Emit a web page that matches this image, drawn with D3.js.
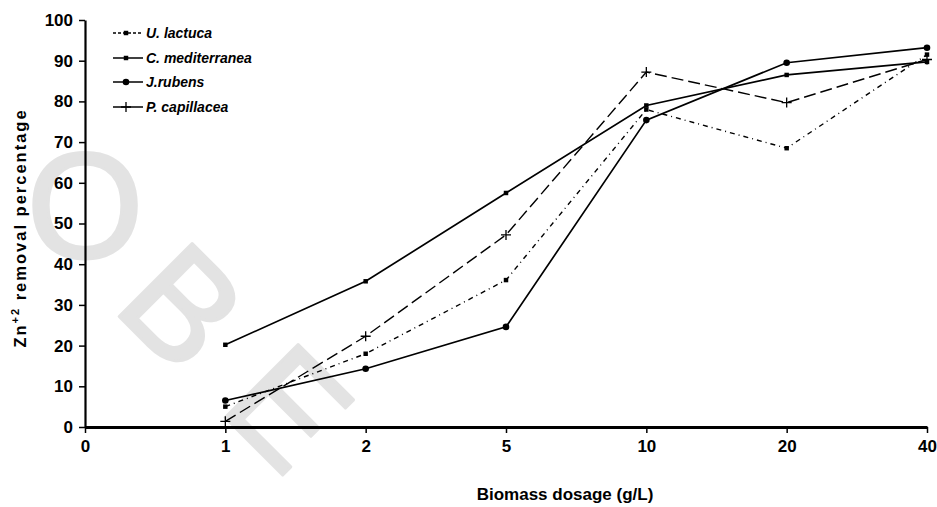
<!DOCTYPE html>
<html>
<head>
<meta charset="utf-8">
<script src="https://cdn.jsdelivr.net/npm/d3@7"></script>
<style>
  html, body { margin: 0; padding: 0; background: #fff; }
  svg { display: block; }
  text { font-family: "Liberation Sans", Arial, sans-serif; }
</style>
</head>
<body>
<svg id="chart" width="937" height="507"></svg>
<script>
// Biomass dosage categories (g/L)
const dosages = ["0", "1", "2", "5", "10", "20", "40"];
const measuredDosages = ["1", "2", "5", "10", "20", "40"];
const yTicks = [0, 10, 20, 30, 40, 50, 60, 70, 80, 90, 100];

// Zn(II) removal percentage per alga
const uLactuca      = [5.0, 18.0, 36.1, 78.0, 68.5, 91.5];
const cMediterranea = [20.2, 35.8, 57.5, 79.0, 86.5, 89.7];
const jRubens       = [6.5, 14.3, 24.6, 75.4, 89.5, 93.2];
const pCapillacea   = [1.4, 22.3, 47.2, 87.2, 79.7, 90.3];

const seriesNames = ["U. lactuca", "C. mediterranea", "J.rubens", "P. capillacea"];
const watermarkLetters = ["O", "B", "E"];

const series = [
  { name: seriesNames[0], values: uLactuca, dash: "5,4,1,4", marker: "square", width: 1.4 },
  { name: seriesNames[1], values: cMediterranea, dash: null, marker: "square", width: 1.7 },
  { name: seriesNames[2], values: jRubens, dash: null, marker: "circle", width: 1.7 },
  { name: seriesNames[3], values: pCapillacea, dash: "12,5", marker: "plus", width: 1.4 }
];

const svg = d3.select("#chart");

const x = d3.scalePoint().domain(dosages).range([85, 927]);
const y = d3.scaleLinear().domain([0, 100]).range([427, 20]);

// faint diagonal watermark lettering behind the plot
const wm = svg.append("g")
  .attr("fill", "#e3e3e3")
  .attr("stroke", "#e3e3e3")
  .attr("stroke-width", 3)
  .attr("stroke-linejoin", "round");
const wmPlace = [[85, 204, 0], [184, 305, 45], [290, 406, 45]];
watermarkLetters.forEach((ch, i) => {
  wm.append("text")
    .attr("transform", `translate(${wmPlace[i][0]},${wmPlace[i][1]}) rotate(${wmPlace[i][2]})`)
    .attr("text-anchor", "middle")
    .attr("dy", "0.36em")
    .attr("font-size", 150)
    .text(ch);
});

// axes
const yAxis = d3.axisLeft(y).tickValues(yTicks).tickSize(6).tickSizeOuter(0);
const gy = svg.append("g").attr("transform", "translate(85,0)").call(yAxis);
gy.select(".domain").attr("stroke-width", 2.2);
gy.selectAll(".tick line").attr("stroke-width", 1.5);
gy.selectAll(".tick text")
  .attr("x", -12)
  .attr("font-size", 17)
  .attr("font-weight", "bold")
  .attr("fill", "#000");

const xAxis = d3.axisBottom(x).tickSize(6).tickSizeOuter(0);
const gx = svg.append("g").attr("transform", "translate(0,427)").call(xAxis);
gx.select(".domain").attr("stroke-width", 2.8);
gx.selectAll(".tick line").attr("stroke-width", 1.5);
gx.selectAll(".tick text")
  .attr("y", 13)
  .attr("font-size", 17)
  .attr("font-weight", "bold")
  .attr("fill", "#000");

// axis titles
svg.append("text")
  .attr("x", 565).attr("y", 500)
  .attr("text-anchor", "middle")
  .attr("font-size", 17)
  .attr("font-weight", "bold")
  .text("Biomass dosage (g/L)");

const yt = svg.append("text")
  .attr("transform", "translate(26,228) rotate(-90)")
  .attr("text-anchor", "middle")
  .attr("font-size", 16.5)
  .attr("font-weight", "bold")
  .attr("letter-spacing", 2);
yt.append("tspan").text("Zn");
yt.append("tspan").attr("dy", -7).attr("font-size", 11).text("+2");
yt.append("tspan").attr("dy", 7).text(" removal percentage");

// lines and markers
const line = d3.line()
  .x((d, i) => x(measuredDosages[i]))
  .y(d => y(d));

function drawMarker(g, type, cx, cy) {
  if (type === "circle") {
    g.append("circle").attr("cx", cx).attr("cy", cy).attr("r", 3.3).attr("fill", "#000");
  } else if (type === "square") {
    g.append("path")
      .attr("transform", `translate(${cx},${cy})`)
      .attr("d", d3.symbol(d3.symbolSquare, 20)())
      .attr("fill", "#000");
  } else {
    g.append("path")
      .attr("transform", `translate(${cx},${cy})`)
      .attr("d", "M-5,0H5M0,-5V5")
      .attr("stroke", "#000")
      .attr("stroke-width", 1.3)
      .attr("fill", "none");
  }
}

const plot = svg.append("g");
series.forEach(s => {
  plot.append("path")
    .datum(s.values)
    .attr("d", line)
    .attr("fill", "none")
    .attr("stroke", "#000")
    .attr("stroke-width", s.width)
    .attr("stroke-dasharray", s.dash);
  const mg = plot.append("g");
  s.values.forEach((v, i) => drawMarker(mg, s.marker, x(measuredDosages[i]), y(v)));
});

// legend
const legend = svg.append("g");
const rowY = [33, 58, 82, 107];
series.forEach((s, i) => {
  const gr = legend.append("g");
  gr.append("line")
    .attr("x1", 113).attr("x2", 143)
    .attr("y1", rowY[i]).attr("y2", rowY[i])
    .attr("stroke", "#000")
    .attr("stroke-width", 1.5)
    .attr("stroke-dasharray", i === 0 ? "3,2" : null);
  drawMarker(gr, s.marker, 126, rowY[i]);
  gr.append("text")
    .attr("x", 146).attr("y", rowY[i] + 5)
    .attr("font-size", 14)
    .attr("font-weight", "bold")
    .attr("font-style", "italic")
    .text(s.name);
});
</script>
</body>
</html>
